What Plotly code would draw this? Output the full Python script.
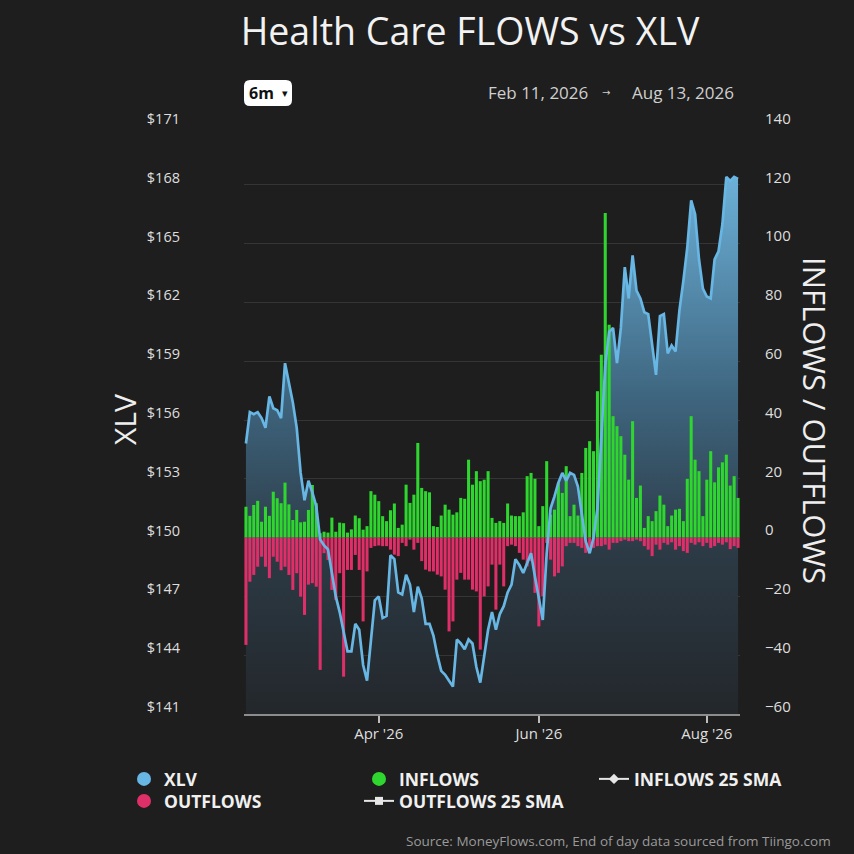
import pandas as pd
import plotly.graph_objects as go

# ---------------- data ----------------
holidays = ["2026-02-16", "2026-04-03", "2026-05-25", "2026-06-19", "2026-07-03"]
dates = [d.strftime("%Y-%m-%d") for d in
         pd.bdate_range("2026-02-11", "2026-08-13", freq="C", holidays=holidays)]

xlv = [154.8, 156.4, 156.3, 156.4, 156.1, 155.6, 157.2, 156.6, 156.5, 156.1,
       158.9, 157.9, 156.9, 155.6, 153.3, 151.9, 152.9, 152.3, 151.6, 149.9,
       149.6, 149.4, 148.2, 147.0, 146.2, 145.2, 144.2, 144.2, 145.6, 145.3,
       143.5, 142.7, 144.6, 146.8, 147.0, 145.9, 146.0, 149.1, 148.9, 147.2,
       147.1, 148.1, 147.6, 146.2, 147.5, 146.9, 145.6, 145.6, 145.0, 144.0,
       143.2, 143.0, 142.7, 142.4, 144.8, 144.6, 144.3, 144.8, 144.6, 143.4,
       142.6, 144.0, 145.3, 146.2, 145.3, 146.1, 146.5, 147.2, 147.6, 148.9,
       148.6, 148.2, 148.7, 149.2, 148.0, 146.8, 145.8, 149.2, 151.5, 152.1,
       152.8, 153.3, 152.9, 153.3, 153.2, 152.6, 151.3, 149.8, 149.2, 150.0,
       151.5, 155.0, 158.8, 160.5, 160.7, 158.9, 160.7, 163.8, 162.2, 164.4,
       162.6, 162.2, 161.5, 161.4, 159.9, 158.3, 161.3, 161.4, 159.4, 159.8,
       159.5, 161.6, 163.1, 164.8, 167.2, 166.5, 164.2, 162.7, 162.3, 162.2,
       164.2, 164.6, 166.0, 168.4, 168.2, 168.4, 168.3]

inflows = [10.5, 7.4, 11.1, 12.5, 5.4, 10.5, 7.4, 15.6, 13.4, 11.7,
           18.7, 11.3, 6.0, 9.4, 5.2, 5.4, 9.4, 17.9, 11.7, 1.5,
           2.0, 1.7, 6.8, 2.0, 5.1, 4.9, 1.7, 2.8, 7.5, 6.6,
           2.7, 3.9, 15.8, 14.6, 12.4, 7.3, 5.6, 9.3, 11.6, 3.3,
           4.4, 18.0, 11.8, 14.6, 32.2, 16.9, 15.8, 15.4, 3.9, 3.6,
           7.5, 11.2, 9.5, 7.8, 8.6, 13.5, 13.2, 26.5, 18.0, 22.6,
           19.2, 19.7, 22.6,
           6.7, 5.0, 5.6, 5.0, 11.6, 7.5, 7.3, 7.3, 8.6, 20.9,
           22.0, 20.0, 3.9, 10.7, 26.0, 7.8, 9.5, 18.6, 15.2, 24.3,
           7.3, 11.2, 7.5, 22.0, 30.5, 32.8, 29.4, 49.8, 62.2, 110.4,
           72.4, 41.3, 37.9,
           34.5, 28.2, 19.7, 39.6, 13.5, 17.7, 3.3, 7.3, 5.6, 9.0,
           14.3, 11.2, 3.9, 7.5, 9.5, 9.8, 5.6, 20.0, 41.3, 26.5,
           22.6, 7.3, 19.7, 29.4, 18.8, 23.9, 25.6, 28.2, 17.7, 20.9,
           13.5]

outflows = [-36.5, -15.0, -12.7, -9.9, -6.5, -9.9, -13.8, -6.5, -8.2, -11.1,
            -9.9, -12.7, -17.8, -12.1, -20.1, -26.3, -16.0, -15.5, -16.7, -45.0,
            -5.3, -7.6, -17.8, -21.2, -12.1, -47.3, -11.0, -11.0, -5.9, -11.0,
            -28.5, -11.5, -3.5, -2.9, -2.7, -2.9, -2.9, -4.1, -5.8, -6.3,
            -1.8, -2.9, -0.7, -4.1, -1.8, -8.0, -10.9, -11.5, -11.5, -12.6,
            -13.2, -17.7, -31.9, -28.5, -14.3, -12.0, -14.3, -14.3, -17.7, -18.3,
            -38.1, -20.0, -16.6,
            -9.2, -24.5, -9.2, -16.6, -2.9, -2.4, -2.9, -5.2, -7.5, -9.8,
            -8.0, -18.8, -30.2, -19.9, -1.8, -7.5, -13.2, -12.0, -9.8, -2.9,
            -1.8, -1.8, -2.9, -3.5, -5.2, -4.1, -3.5, -2.9, -2.9, -2.4,
            -4.1, -1.8, -1.8,
            -1.2, -0.7, -1.2, -1.2, -0.7, -1.2, -2.9, -4.1, -6.3, -2.4,
            -4.1, -1.8, -2.4, -1.6, -4.1, -2.9, -4.6, -5.2, -1.8, -2.4,
            -1.6, -2.9, -1.8, -3.5, -2.9, -1.8, -2.4, -1.6, -3.9, -2.9,
            -3.5]

n = min(len(dates), len(xlv), len(inflows), len(outflows))
dates, xlv, inflows, outflows = dates[:n], xlv[:n], inflows[:n], outflows[:n]

month_ticks = ["2026-04-01", "2026-06-01", "2026-08-03"]
month_labels = ["Apr '26", "Jun '26", "Aug '26"]

price_ticks = list(range(141, 172, 3))
flow_ticks = list(range(-60, 141, 20))

# ---------------- style ----------------
BG = "#1e1e1e"
BLUE = "#68b6e3"
GREEN = "#2fd62f"
PINK = "#de2f68"
TXT = "#dedede"
FONT = "Open Sans"

W, H = 854, 854
L, R, T, B = 244, 740, 126, 714  # plot area in pixels


def px(x):
    return (x - L) / (R - L)


def py(y):
    return (B - y) / (B - T)


fig = go.Figure()

# price area (bottom layer)
fig.add_trace(go.Scatter(
    x=dates, y=xlv, mode="none", fill="tozeroy",
    fillgradient=dict(type="vertical",
                      colorscale=[[0, "#23272b"], [0.3, "#2c3a45"],
                                  [0.6, "#3f6781"], [1, "#6cb0d8"]],
                      start=141, stop=168.4),
    showlegend=False, hoverinfo="skip", xaxis="x", yaxis="y"))

# flows bars
fig.add_trace(go.Bar(x=dates, y=inflows, marker=dict(color=GREEN, line_width=0),
                     showlegend=False, xaxis="x", yaxis="y2"))
fig.add_trace(go.Bar(x=dates, y=outflows, marker=dict(color=PINK, line_width=0),
                     showlegend=False, xaxis="x", yaxis="y2"))

# price line (top layer)
fig.add_trace(go.Scatter(x=dates, y=xlv, mode="lines",
                         line=dict(color=BLUE, width=2.7),
                         showlegend=False, xaxis="x", yaxis="y3"))

# legend entries (two rows = two legends)
leg = [("XLV", "markers", BLUE, "circle", "legend"),
       ("INFLOWS", "markers", GREEN, "circle", "legend"),
       ("INFLOWS 25 SMA", "lines+markers", "#e6e6e6", "diamond", "legend"),
       ("OUTFLOWS", "markers", PINK, "circle", "legend2"),
       ("OUTFLOWS 25 SMA", "lines+markers", "#e6e6e6", "square", "legend2")]
for name, mode, col, sym, lg in leg:
    fig.add_trace(go.Scatter(
        x=[None], y=[None], name=name, mode=mode, legend=lg,
        marker=dict(color=col, size=14 if sym == "circle" else 8, symbol=sym),
        line=dict(color=col, width=2), xaxis="x", yaxis="y3"))

legend_style = dict(orientation="h", xanchor="left", yanchor="middle",
                    entrywidth=190, entrywidthmode="pixels", traceorder="normal",
                    font=dict(size=17.5, color="#f0f0f0", weight="bold"),
                    bgcolor="rgba(0,0,0,0)", itemclick=False, itemdoubleclick=False)

fig.update_layout(
    width=W, height=H,
    paper_bgcolor=BG, plot_bgcolor=BG,
    margin=dict(l=L, r=W - R, t=T, b=H - B, autoexpand=False),
    font=dict(family=FONT, color=TXT, size=14),
    barmode="relative", bargap=0.22,
    showlegend=True,
    title=dict(text="Health Care FLOWS vs XLV", x=470 / W, xanchor="center",
               y=1 - 32 / H, yanchor="middle",
               font=dict(size=37.5, color="#f2f2f2", family=FONT)),
    xaxis=dict(type="category", categoryorder="array", categoryarray=dates,
               range=[-0.5, n - 0.5], tickvals=month_ticks, ticktext=month_labels,
               showgrid=False, showline=True, linecolor="#8c8c8c", linewidth=2,
               ticks="outside", ticklen=7, tickcolor="#bdbdbd", tickwidth=1.5,
               ticklabelstandoff=-2,
               tickfont=dict(size=15, color=TXT), automargin=False, fixedrange=True),
    yaxis=dict(range=[141, 171], tickvals=price_ticks,
               ticktext=["$%d" % v for v in price_ticks],
               showgrid=True, gridcolor="#353535", gridwidth=1, zeroline=False,
               ticks="", ticklabelposition="outside top", ticklabelstandoff=63,
               ticklabelshift=3,
               tickfont=dict(size=14.5, color=TXT), automargin=False),
    yaxis2=dict(range=[-60, 140], tickvals=flow_ticks, overlaying="y", side="right",
                showgrid=False, zeroline=False, ticks="",
                ticklabelposition="outside top", ticklabelstandoff=24,
                ticklabelshift=3,
                tickfont=dict(size=15, color=TXT), automargin=False),
    yaxis3=dict(range=[141, 171], overlaying="y", visible=False),
    legend=dict(x=px(124), y=py(779), **legend_style),
    legend2=dict(x=px(124), y=py(801), **legend_style),
)


def note(text, x, y, size, color="#cfcfcf", family=FONT, angle=0, xanchor="center"):
    fig.add_annotation(text=text, xref="paper", yref="paper", x=px(x), y=py(y),
                       xanchor=xanchor, yanchor="middle", textangle=angle,
                       showarrow=False, font=dict(size=size, color=color, family=family))


# axis titles
note("XLV", 124, 420, 30, color="#eeeeee", angle=-90)
note("INFLOWS / OUTFLOWS", 815, 420, 31, color="#eeeeee", angle=90)

# range button "6m"
bx0, bx1, by0, by1, rr = 244, 292, 80, 106, 6
rx, ry = rr / (R - L), rr / (B - T)
X0, X1, Y0, Y1 = px(bx0), px(bx1), py(by0), py(by1)
path = (f"M {X0 + rx},{Y0} L {X1 - rx},{Y0} Q {X1},{Y0} {X1},{Y0 - ry} "
        f"L {X1},{Y1 + ry} Q {X1},{Y1} {X1 - rx},{Y1} L {X0 + rx},{Y1} "
        f"Q {X0},{Y1} {X0},{Y1 + ry} L {X0},{Y0 - ry} Q {X0},{Y0} {X0 + rx},{Y0} Z")
fig.add_shape(type="path", path=path, xref="paper", yref="paper",
              fillcolor="#ffffff", line=dict(width=0))
note("<b>6m</b>", 261, 93, 16, color="#111111")
note("▾", 285, 93, 11, color="#111111", family="DejaVu Sans")

# date range
note("Feb 11, 2026", 538, 92, 17, color="#cfcfcf")
note("→", 606, 92, 10, color="#cfcfcf", family="DejaVu Sans")
note("Aug 13, 2026", 683, 92, 17, color="#cfcfcf")

# source
note("Source: MoneyFlows.com, End of day data sourced from Tiingo.com",
     833, 841, 13.5, color="#9a9a9a", xanchor="right")

fig.write_html("out.html",
               config={"displayModeBar": False},
               post_script="document.body.style.margin='0px';"
                           "document.body.style.background='#1e1e1e';")
